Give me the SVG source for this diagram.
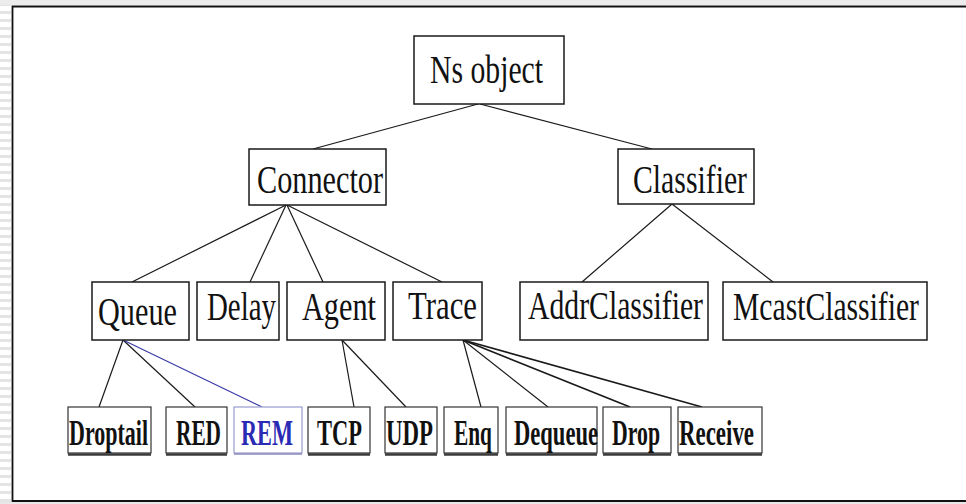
<svg xmlns="http://www.w3.org/2000/svg" width="966" height="504" viewBox="0 0 966 504">
  <defs>
    <pattern id="stripes" x="0" y="0" width="11" height="8" patternUnits="userSpaceOnUse">
      <rect x="0" y="0" width="11" height="8" fill="#ffffff"/>
      <rect x="0" y="3" width="11" height="3" fill="#e4e4e4"/>
    </pattern>
  </defs>
  <style>
    .box { fill: #ffffff; stroke: #1a1a1a; stroke-width: 1.5; }
    .leaf { fill: #ffffff; stroke: #333333; stroke-width: 1.2; }
    .leaf-blue { fill: #ffffff; stroke: #9a9ad0; stroke-width: 1.2; }
    .shadow { stroke: #3a3a3a; stroke-width: 2.6; fill: none; }
    .big { font-family: "Liberation Serif", "Times New Roman", serif; font-size: 30px; fill: #111111; }
    .small { font-family: "Liberation Serif", "Times New Roman", serif; font-size: 22px; font-weight: bold; fill: #111111; }
    .blue { fill: #2a2ab4; }
    .edge { stroke: #1a1a1a; stroke-width: 1.2; fill: none; }
    .edge-thick { stroke: #1a1a1a; stroke-width: 1.7; fill: none; }
    .edge-blue { stroke: #3a3aa8; stroke-width: 1.2; fill: none; }
  </style>

  <!-- page background and frame -->
  <rect x="0" y="0" width="966" height="504" fill="#ffffff"/>
  <rect x="0" y="0" width="11" height="504" fill="url(#stripes)"/>
  <rect x="0" y="0" width="966" height="5" fill="#ececec"/>
  <rect x="0" y="502" width="966" height="2" fill="#e8e8e8"/>
  <path d="M966 6.5 H12.5 V501 H966" fill="none" stroke="#111111" stroke-width="1.8"/>

  <!-- connectors -->
  <g id="connectors">
    <line class="edge" x1="478" y1="104" x2="313" y2="149"/>
    <line class="edge" x1="480" y1="104" x2="652" y2="149"/>
    <line class="edge" x1="286" y1="205" x2="132" y2="282"/>
    <line class="edge" x1="286" y1="205" x2="250" y2="282"/>
    <line class="edge" x1="287" y1="205" x2="323" y2="282"/>
    <line class="edge" x1="287" y1="205" x2="442" y2="282"/>
    <line class="edge" x1="672" y1="204" x2="582" y2="282"/>
    <line class="edge" x1="672" y1="204" x2="773" y2="282"/>
    <line class="edge" x1="123" y1="340" x2="99" y2="407"/>
    <line class="edge" x1="123" y1="340" x2="195" y2="407"/>
    <line class="edge-blue" x1="123" y1="340" x2="262" y2="407"/>
    <line class="edge" x1="342" y1="340" x2="354" y2="407"/>
    <line class="edge" x1="342" y1="340" x2="406" y2="407"/>
    <line class="edge" x1="463" y1="340" x2="481" y2="407"/>
    <line class="edge" x1="463" y1="340" x2="548" y2="407"/>
    <line class="edge-thick" x1="463" y1="340" x2="630" y2="407"/>
    <line class="edge-thick" x1="463" y1="340" x2="702" y2="407"/>
  </g>

  <!-- root -->
  <g id="ns-object">
    <rect class="box" x="414" y="36" width="150" height="68"/>
    <text class="big" transform="translate(430 83) scale(1 1.33)" textLength="113" lengthAdjust="spacingAndGlyphs">Ns object</text>
  </g>

  <!-- second level -->
  <g id="connector">
    <rect class="box" x="249" y="149" width="137" height="56"/>
    <text class="big" transform="translate(257 193) scale(1 1.33)" textLength="126" lengthAdjust="spacingAndGlyphs">Connector</text>
  </g>
  <g id="classifier">
    <rect class="box" x="618" y="149" width="136" height="55"/>
    <text class="big" transform="translate(633 193) scale(1 1.33)" textLength="114" lengthAdjust="spacingAndGlyphs">Classifier</text>
  </g>

  <!-- third level -->
  <g id="queue">
    <rect class="box" x="92" y="282" width="97" height="58"/>
    <text class="big" transform="translate(98 325) scale(1 1.33)" textLength="79" lengthAdjust="spacingAndGlyphs">Queue</text>
  </g>
  <g id="delay">
    <rect class="box" x="197" y="282" width="82" height="58"/>
    <text class="big" transform="translate(207 320) scale(1 1.33)" textLength="69" lengthAdjust="spacingAndGlyphs">Delay</text>
  </g>
  <g id="agent">
    <rect class="box" x="287" y="282" width="98" height="58"/>
    <text class="big" transform="translate(302 320) scale(1 1.33)" textLength="74" lengthAdjust="spacingAndGlyphs">Agent</text>
  </g>
  <g id="trace">
    <rect class="box" x="393" y="282" width="89" height="58"/>
    <text class="big" transform="translate(408 319) scale(1 1.33)" textLength="69" lengthAdjust="spacingAndGlyphs">Trace</text>
  </g>
  <g id="addr-classifier">
    <rect class="box" x="520" y="282" width="188" height="58"/>
    <text class="big" transform="translate(528 319) scale(1 1.33)" textLength="175" lengthAdjust="spacingAndGlyphs">AddrClassifier</text>
  </g>
  <g id="mcast-classifier">
    <rect class="box" x="723" y="282" width="204" height="58"/>
    <text class="big" transform="translate(733 320) scale(1 1.33)" textLength="186" lengthAdjust="spacingAndGlyphs">McastClassifier</text>
  </g>

  <!-- leaves -->
  <g id="droptail">
    <rect class="leaf" x="68" y="407" width="83" height="46"/>
    <line class="shadow" x1="68" y1="454.5" x2="151" y2="454.5"/>
    <text class="small" transform="translate(69 445) scale(1 1.6)" textLength="79" lengthAdjust="spacingAndGlyphs">Droptail</text>
  </g>
  <g id="red">
    <rect class="leaf" x="166" y="407" width="61" height="46"/>
    <line class="shadow" x1="166" y1="454.5" x2="227" y2="454.5"/>
    <text class="small" transform="translate(176 445) scale(1 1.6)" textLength="45" lengthAdjust="spacingAndGlyphs">RED</text>
  </g>
  <g id="rem">
    <rect class="leaf-blue" x="234" y="407" width="68" height="46"/>
    <line x1="234" y1="454" x2="302" y2="454" stroke="#8a8ab8" stroke-width="1.6"/>
    <text class="small blue" transform="translate(241 445) scale(1 1.6)" textLength="52" lengthAdjust="spacingAndGlyphs">REM</text>
  </g>
  <g id="tcp">
    <rect class="leaf" x="308" y="407" width="62" height="46"/>
    <line class="shadow" x1="308" y1="454.5" x2="370" y2="454.5"/>
    <text class="small" transform="translate(317 445) scale(1 1.6)" textLength="45" lengthAdjust="spacingAndGlyphs">TCP</text>
  </g>
  <g id="udp">
    <rect class="leaf" x="385" y="407" width="52" height="46"/>
    <line class="shadow" x1="385" y1="454.5" x2="437" y2="454.5"/>
    <text class="small" transform="translate(386 445) scale(1 1.6)" textLength="47" lengthAdjust="spacingAndGlyphs">UDP</text>
  </g>
  <g id="enq">
    <rect class="leaf" x="444" y="407" width="54" height="46"/>
    <line class="shadow" x1="444" y1="454.5" x2="498" y2="454.5"/>
    <text class="small" transform="translate(454 445) scale(1 1.6)" textLength="38" lengthAdjust="spacingAndGlyphs">Enq</text>
  </g>
  <g id="dequeue">
    <rect class="leaf" x="506" y="407" width="91" height="46"/>
    <line class="shadow" x1="506" y1="454.5" x2="597" y2="454.5"/>
    <text class="small" transform="translate(514 445) scale(1 1.6)" textLength="84" lengthAdjust="spacingAndGlyphs">Dequeue</text>
  </g>
  <g id="drop">
    <rect class="leaf" x="603" y="407" width="68" height="46"/>
    <line class="shadow" x1="603" y1="454.5" x2="671" y2="454.5"/>
    <text class="small" transform="translate(612 445) scale(1 1.6)" textLength="48" lengthAdjust="spacingAndGlyphs">Drop</text>
  </g>
  <g id="receive">
    <rect class="leaf" x="678" y="407" width="84" height="46"/>
    <line class="shadow" x1="678" y1="454.5" x2="762" y2="454.5"/>
    <text class="small" transform="translate(679 445) scale(1 1.6)" textLength="75" lengthAdjust="spacingAndGlyphs">Receive</text>
  </g>
</svg>
